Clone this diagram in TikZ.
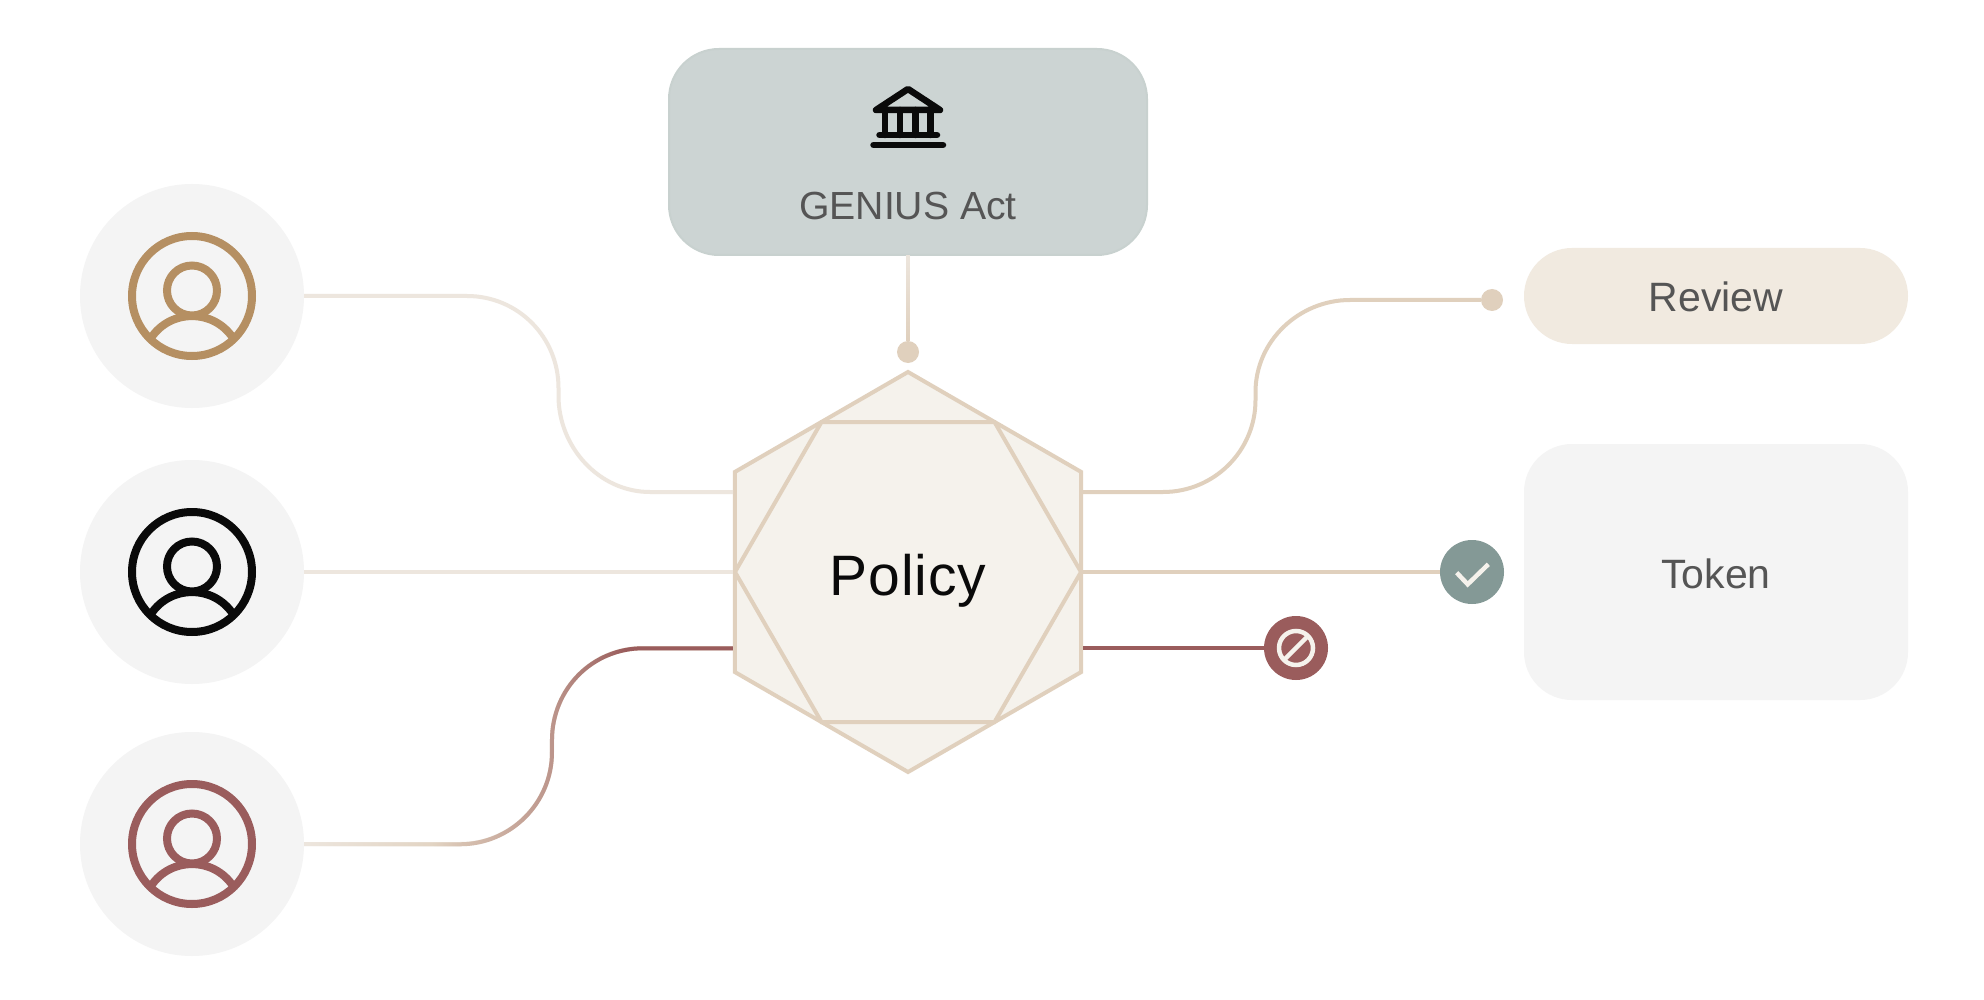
\documentclass[tikz,border=0pt]{standalone}
\usepackage{fontspec}
\setmainfont{Liberation Sans}
\usetikzlibrary{shapes.geometric,fadings}
\definecolor{tanline}{HTML}{E0D0BD}
\definecolor{lightline}{HTML}{EDE6DE}
\definecolor{redline}{HTML}{9A5C5C}
\definecolor{tanicon}{HTML}{B58F62}
\definecolor{inkblack}{HTML}{0A0A0A}
\definecolor{greytext}{HTML}{555555}
\definecolor{hexfill}{HTML}{F5F2EC}
\definecolor{govfill}{HTML}{CCD4D3}
\definecolor{govedge}{HTML}{C8D1CF}
\definecolor{reviewfill}{HTML}{F1EAE0}
\definecolor{softgrey}{HTML}{F4F4F4}
\definecolor{okfill}{HTML}{849996}
\pgfdeclarehorizontalshading{tanshade}{100bp}{color(0bp)=(black);color(38bp)=(white);color(100bp)=(white)}
\pgfdeclarefading{tanfade}{\pgfuseshading{tanshade}}
\pgfdeclarehorizontalshading{redshade}{100bp}{color(0bp)=(black);color(30bp)=(black);color(57.5bp)=(gray);color(75bp)=(white);color(100bp)=(white)}
\pgfdeclarefading{redfade}{\pgfuseshading{redshade}}
\pgfdeclareverticalshading{topshade}{100bp}{color(0bp)=(white);color(100bp)=(black)}
\pgfdeclarefading{topfade}{\pgfuseshading{topshade}}
\tikzset{
  wire/.style={line width=4pt,line cap=butt},
  softdisc/.style={circle,fill=softgrey,minimum size=224pt,inner sep=0pt,outer sep=0pt},
  enddot/.style={circle,fill=tanline,minimum size=22pt,inner sep=0pt,outer sep=0pt},
  badge/.style={circle,minimum size=64pt,inner sep=0pt,outer sep=0pt},
  panel/.style={rectangle,rounded corners=48pt,minimum width=384pt,inner sep=0pt,outer sep=0pt},
  labeltext/.style={anchor=base,text=greytext,font=\fontsize{41}{48}\selectfont,inner sep=0pt},
  iconline/.style={line width=8pt},
  bankline/.style={line width=6.5pt,line cap=round,line join=round,draw=inkblack},
  markline/.style={line width=4.5pt,draw=hexfill},
  hexline/.style={line width=4pt,draw=tanline,line join=miter}
}
\newcommand{\usericon}[3]{%
  \begin{scope}[shift={(#1,#2)}]
    \draw[iconline,draw=#3] (0,0) circle[radius=60pt];
    \draw[iconline,draw=#3] (0,-5.5) circle[radius=25pt];
    \draw[iconline,draw=#3] (-41,42) .. controls (-21.5,12.7) and (21.5,12.7) .. (41,42);
  \end{scope}}
\begin{document}
\begin{tikzpicture}[x=1pt,y=-1pt]
\useasboundingbox (0,0) rectangle (1984,1000);
\fill[white] (0,0) rectangle (1984,1000);

% hexagon
\node[regular polygon,regular polygon sides=6,shape border rotate=30,minimum size=400pt,inner sep=0pt,outer sep=0pt,hexline,fill=hexfill] (hex) at (908,572) {};
\coordinate (i1) at (735,572);
\coordinate (i2) at (821.5,422);
\coordinate (i3) at (994.5,422);
\coordinate (i4) at (1081,572);
\coordinate (i5) at (994.5,722);
\coordinate (i6) at (821.5,722);
\draw[hexline] (i1) -- (i2) -- (i3) -- (i4) -- (i5) -- (i6) -- cycle;
\node[anchor=base,text=inkblack,inner sep=0pt,font=\fontsize{57}{60}\selectfont\addfontfeature{LetterSpace=1.5}] (policy) at (908,595) {Policy};

% discs
\node[softdisc] (u1) at (192,296) {};
\node[softdisc] (u2) at (192,572) {};
\node[softdisc] (u3) at (192,844) {};
\usericon{192}{296}{tanicon}
\usericon{192}{572}{inkblack}
\usericon{192}{844}{redline}

% top box
\node[panel,rounded corners=50pt,minimum width=478pt,minimum height=206pt,fill=govfill,draw=govedge,line width=2pt] (gov) at (908,152) {};
\node[labeltext,font=\fontsize{39.2}{48}\selectfont] (govt) at (908,220) {GENIUS Act};
\draw[bankline] (876,110) -- (908,89) -- (940,110) -- cycle;
\draw[bankline] (885,110) -- (885,135);
\draw[bankline] (900,110) -- (900,135);
\draw[bankline] (915.5,110) -- (915.5,135);
\draw[bankline] (930.5,110) -- (930.5,135);
\draw[bankline] (879.5,135) -- (937,135);
\draw[bankline] (873.5,145) -- (943,145);

% right panels
\node[panel,minimum height=96pt,fill=reviewfill] (review) at (1716,296) {};
\node[labeltext] (reviewt) at (1716,311.5) {Review};
\node[panel,minimum height=256pt,fill=softgrey] (token) at (1716,572) {};
\node[labeltext] (tokent) at (1716,588) {Token};

% end points
\node[enddot] (dtop) at (908,352) {};
\node[enddot] (drev) at (1492,300) {};
\node[badge,fill=okfill] (ok) at (1472,572) {};
\node[badge,fill=redline] (no) at (1296,648) {};
\draw[markline] (1456.7,572.7) -- (1467.7,584.3) -- (1488.3,564.3);
\draw[markline] (1296,648) circle[radius=17pt];
\draw[markline] (1284,660) -- (1308,636);

% connectors
\coordinate (hl1) at (733,492);
\coordinate (hl2) at (733,572);
\coordinate (hl3) at (733,648);
\coordinate (hr1) at (1083,492);
\coordinate (hr2) at (1083,572);
\coordinate (hr3) at (1083,648);

\draw[wire,draw=lightline] (u1.east |- 0,296) -- (467,296)
  .. controls (518,296) and (558.5,337) .. (558.5,388)
  -- (558.5,396)
  .. controls (558.5,447) and (599,492) .. (650,492) -- (hl1);
\draw[wire,draw=lightline] (u2.east) -- (hl2);

\def\wirethree{(u3.east) -- (460,844)
  .. controls (510.5,844) and (552,803) .. (552,752)
  -- (552,740)
  .. controls (552,689) and (592,648) .. (643,648) -- (hl3)}
\draw[wire,draw=lightline] \wirethree;
\draw[wire,draw=tanline,path fading=tanfade,fit fading=false,fading transform={shift={(518.5,0)},xscale=4.294,yscale=30}] \wirethree;
\draw[wire,draw=redline,path fading=redfade,fit fading=false,fading transform={shift={(518.5,0)},xscale=4.294,yscale=30}] \wirethree;

\draw[wire,draw=tanline] (hr1) -- (1163,492)
  .. controls (1214,492) and (1255.5,451) .. (1255.5,400)
  -- (1255.5,392)
  .. controls (1255.5,341) and (1299,300) .. (1350,300) -- (drev.west);
\draw[wire,draw=tanline] (hr2) -- (ok.west);
\draw[wire,draw=redline] (hr3) -- (no.west);
\draw[wire,draw=lightline] (gov.south) -- (dtop.north);
\draw[wire,draw=tanline,path fading=topfade,fit fading=false,fading transform={shift={(0,298)},xscale=30,yscale=0.87}] (gov.south) -- (dtop.north);
\end{tikzpicture}
\end{document}
